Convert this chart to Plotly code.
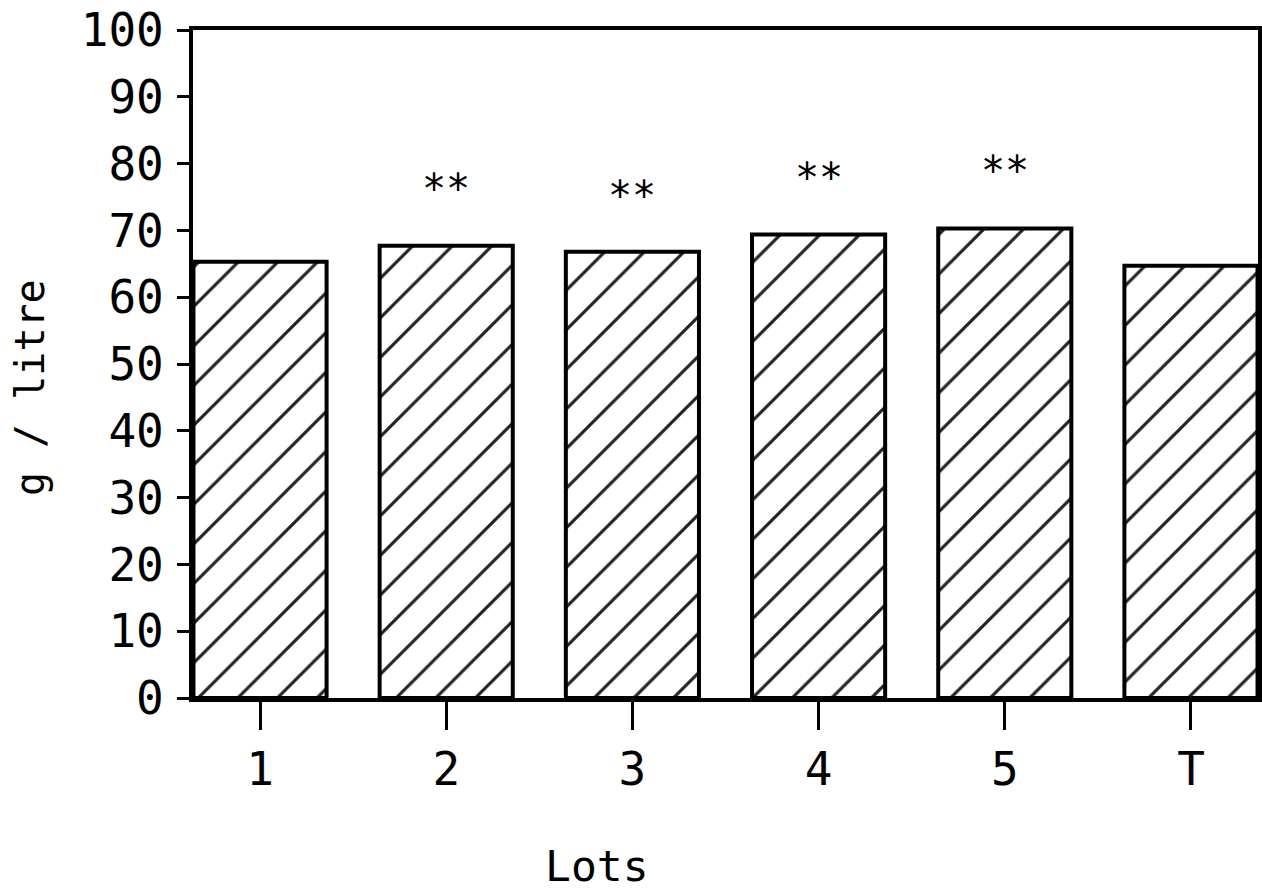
import plotly.graph_objects as go

categories = ["1", "2", "3", "4", "5", "T"]
values = [65.3, 67.7, 66.8, 69.4, 70.3, 64.7]
sig_labels = ["", "**", "**", "**", "**", ""]
sig_y = [None, 77.4, 76.4, 79.0, 80.1, None]
y_ticks = [0, 10, 20, 30, 40, 50, 60, 70, 80, 90, 100]

FONT = "DejaVu Sans Mono"

fig = go.Figure()
fig.add_trace(go.Bar(
    x=categories, y=values, width=0.715,
    marker=dict(color="white",
                line=dict(color="black", width=4),
                pattern=dict(shape="/", size=28, solidity=0.11,
                             fgcolor="#222", fgopacity=1, bgcolor="white")),
    showlegend=False, hoverinfo="skip",
))

for i, (lab, yv) in enumerate(zip(sig_labels, sig_y)):
    if lab and yv is not None:
        fig.add_annotation(x=i, y=yv, text=lab, showarrow=False,
                           font=dict(family=FONT, size=40, color="black"),
                           xanchor="center", yanchor="middle", yshift=-8)

fig.add_annotation(xref="paper", yref="paper", x=-0.153, y=0.464,
                   text="g / litre", textangle=-90, showarrow=False,
                   xanchor="center", yanchor="middle",
                   font=dict(family=FONT, size=40, color="black"))
fig.add_annotation(xref="paper", yref="paper", x=0.379, y=-0.292,
                   text="Lots", showarrow=False,
                   xanchor="center", yanchor="bottom",
                   font=dict(family=FONT, size=43, color="black"))

fig.update_layout(
    width=1262, height=895,
    margin=dict(l=193, r=4, t=30, b=197, autoexpand=False),
    paper_bgcolor="white", plot_bgcolor="white",
    bargap=0.285,
    xaxis=dict(range=[-0.36, 5.36], showline=True, linecolor="black",
               linewidth=4, mirror=True, ticks="outside", ticklen=28,
               tickwidth=3, tickcolor="black", showgrid=False,
               automargin=False,
               tickfont=dict(family=FONT, size=46, color="black"),
               ticklabelstandoff=0),
    yaxis=dict(range=[0, 100], tickvals=y_ticks, showline=True,
               linecolor="black", linewidth=4, mirror=True,
               ticks="outside", ticklen=12, tickwidth=3, tickcolor="black",
               showgrid=False, zeroline=False, automargin=False,
               tickfont=dict(family=FONT, size=46, color="black"),
               ticklabelstandoff=4),
)

fig.write_html(
    "out.html",
    config={"displayModeBar": False},
    post_script="document.body.style.margin='0';document.body.style.overflow='hidden';",
)
